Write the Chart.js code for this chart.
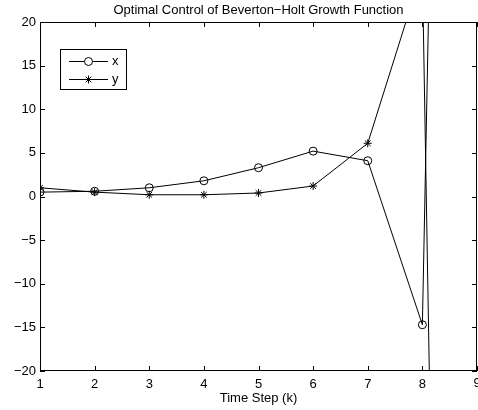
<!DOCTYPE html>
<html>
<head>
<meta charset="utf-8">
<script src="https://cdn.jsdelivr.net/npm/chart.js@4.4.1/dist/chart.umd.min.js"></script>
<style>
  html, body { margin: 0; padding: 0; background: #fff; overflow: hidden; }
  #wrap { width: 478px; height: 410px; }
</style>
</head>
<body>
<div id="wrap"><canvas id="grafico" width="478" height="410"></canvas></div>
<script>
// valores
const passos = [1, 2, 3, 4, 5, 6, 7, 8, 9];
const serieX = [0.5, 0.6, 1.0, 1.8, 3.3, 5.2, 4.1, -14.7, 300];
const serieY = [1.0, 0.5, 0.2, 0.2, 0.4, 1.2, 6.1, 26, -337];
const ticksX = [1, 2, 3, 4, 5, 6, 7, 8, 9];
const ticksY = [-20, -15, -10, -5, 0, 5, 10, 15, 20];
const titulo = "Optimal Control of Beverton\u2212Holt Growth Function";
const rotuloX = "Time Step (k)";
const fonte = "'Liberation Sans', Arial, Helvetica, sans-serif";
const ultimoX = ticksX[ticksX.length - 1];

function pontos(vals) {
  return passos.map((p, i) => ({ x: p, y: vals[i] }));
}

// ticks para dentro, caixa, titulo, legenda
const estiloMatlab = {
  id: 'estiloMatlab',
  afterDraw(chart) {
    const ctx = chart.ctx;
    const a = chart.chartArea;
    const sx = chart.scales.x, sy = chart.scales.y;
    ctx.save();
    ctx.strokeStyle = '#000';
    ctx.lineWidth = 1;
    ctx.strokeRect(a.left + 0.5, a.top + 0.5, a.right - a.left - 1, a.bottom - a.top - 1);
    const t = 5;
    ctx.beginPath();
    ticksX.forEach(v => {
      const px = Math.round(sx.getPixelForValue(v)) + 0.5;
      ctx.moveTo(px, a.bottom); ctx.lineTo(px, a.bottom - t);
      ctx.moveTo(px, a.top); ctx.lineTo(px, a.top + t);
    });
    ticksY.forEach(v => {
      const py = Math.round(sy.getPixelForValue(v)) + 0.5;
      ctx.moveTo(a.left, py); ctx.lineTo(a.left + t, py);
      ctx.moveTo(a.right, py); ctx.lineTo(a.right - t, py);
    });
    ctx.stroke();

    ctx.fillStyle = '#000';
    ctx.font = '13px ' + fonte;
    // ultimo rotulo do eixo x (cortado na borda, como no original)
    ctx.textAlign = 'center';
    ctx.textBaseline = 'top';
    ctx.fillText(String(ultimoX), sx.getPixelForValue(ultimoX), a.bottom + 6);

    ctx.textBaseline = 'middle';
    ctx.fillText(titulo, (a.left + a.right) / 2, 10.5);
    ctx.fillText(rotuloX, (a.left + a.right) / 2, 398);

    // legenda
    const lx = 60, ly = 49, lw = 66, lh = 40;
    ctx.fillStyle = '#fff';
    ctx.fillRect(lx, ly, lw, lh);
    ctx.strokeRect(lx + 0.5, ly + 0.5, lw, lh);
    const linhas = [[61, 'circle', 'x'], [79, 'star', 'y']];
    linhas.forEach(([yy, estilo, txt]) => {
      ctx.beginPath();
      ctx.moveTo(69, yy + 0.5); ctx.lineTo(108, yy + 0.5);
      ctx.stroke();
      ctx.strokeStyle = '#000';
      Chart.helpers.drawPoint(ctx, { pointStyle: estilo, radius: 4, borderWidth: 1 }, 88.5, yy + 0.5);
      ctx.fillStyle = '#000';
      ctx.textAlign = 'left';
      ctx.fillText(txt, 112, yy);
    });
    ctx.restore();
  }
};

const ctx = document.getElementById('grafico').getContext('2d');
const grafico = new Chart(ctx, {
  type: 'line',
  data: {
    datasets: [
      {
        label: 'x',
        data: pontos(serieX),
        borderColor: '#000',
        borderWidth: 1,
        pointStyle: 'circle',
        pointRadius: 4,
        pointBorderColor: '#000',
        pointBackgroundColor: 'transparent',
        pointBorderWidth: 1,
        tension: 0
      },
      {
        label: 'y',
        data: pontos(serieY),
        borderColor: '#000',
        borderWidth: 1,
        pointStyle: 'star',
        pointRadius: 4,
        pointBorderColor: '#000',
        pointBackgroundColor: 'transparent',
        pointBorderWidth: 1,
        tension: 0
      }
    ]
  },
  options: {
    responsive: false,
    animation: false,
    events: [],
    layout: { autoPadding: false, padding: { top: 22, left: 0, right: 1, bottom: 0 } },
    plugins: { legend: { display: false }, title: { display: false }, tooltip: { enabled: false } },
    scales: {
      x: {
        type: 'linear',
        min: 1, max: 9,
        afterFit: s => { s.height = 39; s.paddingLeft = 0; s.paddingRight = 0; },
        afterBuildTicks: s => { s.ticks = ticksX.map(v => ({ value: v })); },
        grid: { display: false, drawTicks: false },
        border: { display: false },
        ticks: {
          color: '#000', font: { family: fonte, size: 13 }, padding: 6, maxRotation: 0,
          callback: v => (v === ultimoX ? '' : String(v))
        }
      },
      y: {
        type: 'linear',
        min: -20, max: 20,
        afterFit: s => { s.width = 40; },
        afterBuildTicks: s => { s.ticks = ticksY.map(v => ({ value: v })); },
        grid: { display: false, drawTicks: false },
        border: { display: false },
        ticks: {
          color: '#000', font: { family: fonte, size: 13 }, padding: 4,
          callback: v => String(v).replace('-', '\u2212')
        }
      }
    }
  },
  plugins: [estiloMatlab]
});

// a area do grafico deve ir ate a borda direita (x = 477)
for (let i = 0; i < 3; i++) {
  const falta = (grafico.width - 1) - grafico.chartArea.right;
  if (Math.abs(falta) < 0.5) break;
  grafico.options.layout.padding.right -= falta;
  grafico.update();
}
</script>
</body>
</html>
